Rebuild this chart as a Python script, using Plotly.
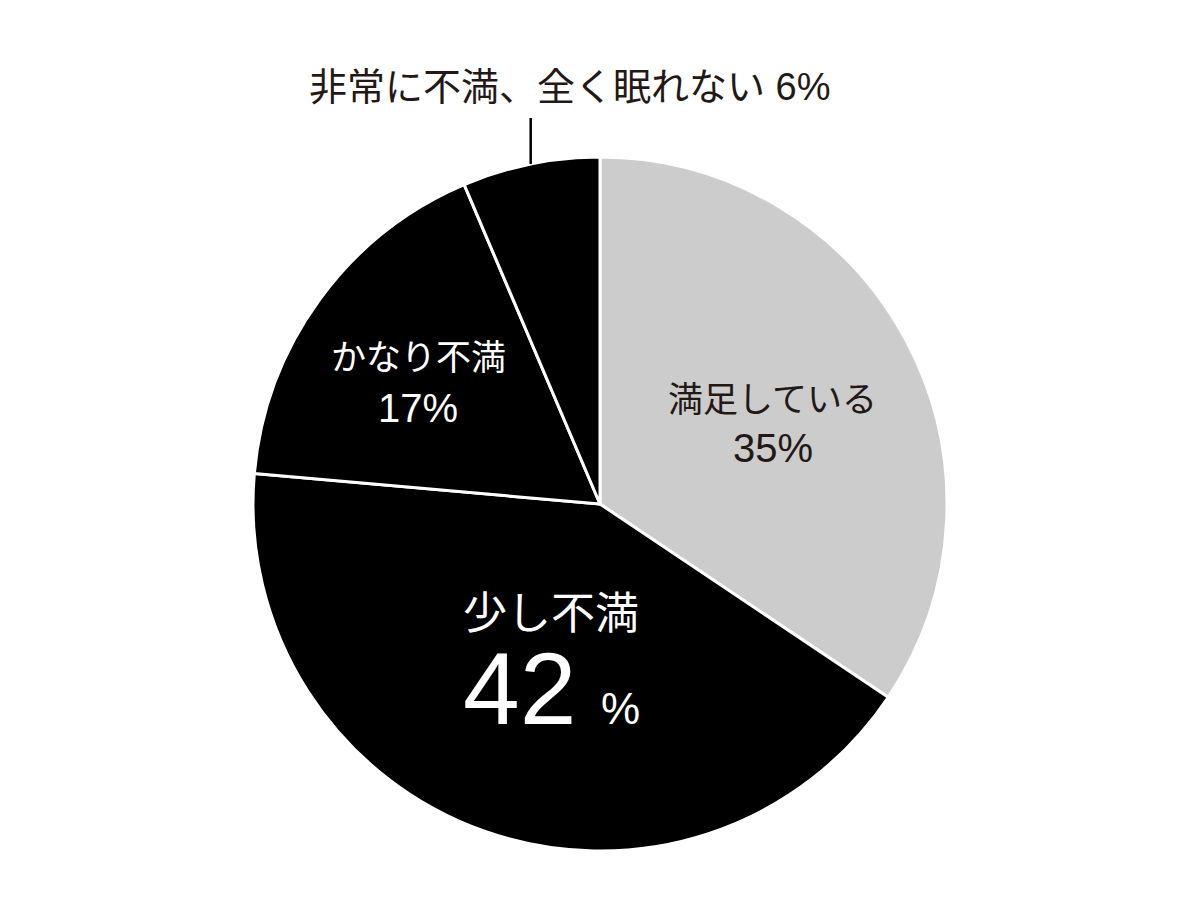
import math

from plotly import graph_objects as go

labels = ['満足している', '少し不満', 'かなり不満', '非常に不満、全く眠れない']
values = [34.4, 42.0, 17.2, 6.4]
pct_text = ['35%', '42', '17%', '6%']
slice_colors = ['#cccccc', '#000000', '#000000', '#000000']
text_colors = ['#231815', '#ffffff', '#ffffff', '#231815']

W, H = 1200, 909
# page has an 8px body margin, so the plot area is shifted back by that much
M = dict(l=245, r=261, t=149, b=66)
FONT = 'Liberation Sans, Noto Sans CJK JP, sans-serif'


def mid_angle(i):
    # clockwise from 12 o'clock, in radians
    before = sum(values[:i])
    return 2 * math.pi * (before + values[i] / 2) / sum(values)


def polar_to_paper(i, r):
    a = mid_angle(i)
    return 0.5 + 0.5 * r * math.sin(a), 0.5 + 0.5 * r * math.cos(a)


def add_text(x, y, text, size, color, yshift=0, xshift=0):
    fig.add_annotation(x=x, y=y, xref='paper', yref='paper', text=text, showarrow=False,
                       xanchor='center', yanchor='middle', xshift=xshift, yshift=yshift,
                       font=dict(family=FONT, size=size, color=color))


fig = go.Figure(go.Pie(labels=labels,
                       values=values,
                       sort=False,
                       direction='clockwise',
                       rotation=0,
                       textinfo='none',
                       hoverinfo='label+percent',
                       marker=dict(colors=slice_colors, line=dict(color='#ffffff', width=3))))

# inside labels: (slice, radius fraction, name shift, pct shift, name size, pct size)
inside = [(0, 0.565, 12, -36, 35, 40),
          (2, 0.648, 14, -36, 35, 40)]
for i, r, ys_name, ys_pct, fs_name, fs_pct in inside:
    x, y = polar_to_paper(i, r)
    add_text(x, y, labels[i], fs_name, text_colors[i], yshift=ys_name)
    add_text(x, y, pct_text[i], fs_pct, text_colors[i], yshift=ys_pct)

# big slice
x, y = polar_to_paper(1, 0.425)
add_text(x, y, labels[1], 44, text_colors[1], yshift=30)
add_text(x, y, pct_text[1] + "<span style='font-size:44px'>&nbsp;&nbsp;%</span>", 102, text_colors[1],
         yshift=-46, xshift=1)

# small slice: leader line and outside label
x_edge, y_edge = polar_to_paper(3, 1.0)
y_top = y_edge + 46 / (H - M['t'] - M['b'])
fig.add_shape(type='line', xref='paper', yref='paper', x0=x_edge, x1=x_edge, y0=y_edge, y1=y_top,
              line=dict(color='#000000', width=2.5))
fig.add_annotation(x=x_edge, y=y_top, xref='paper', yref='paper',
                   text=labels[3] + ' ' + pct_text[3], showarrow=False,
                   xanchor='center', yanchor='bottom', xshift=39, yshift=8,
                   font=dict(family=FONT, size=38, color=text_colors[3]))

fig.update_layout(width=W, height=H, margin=M, showlegend=False,
                  paper_bgcolor='#ffffff', plot_bgcolor='#ffffff')
fig.write_html('out.html')
